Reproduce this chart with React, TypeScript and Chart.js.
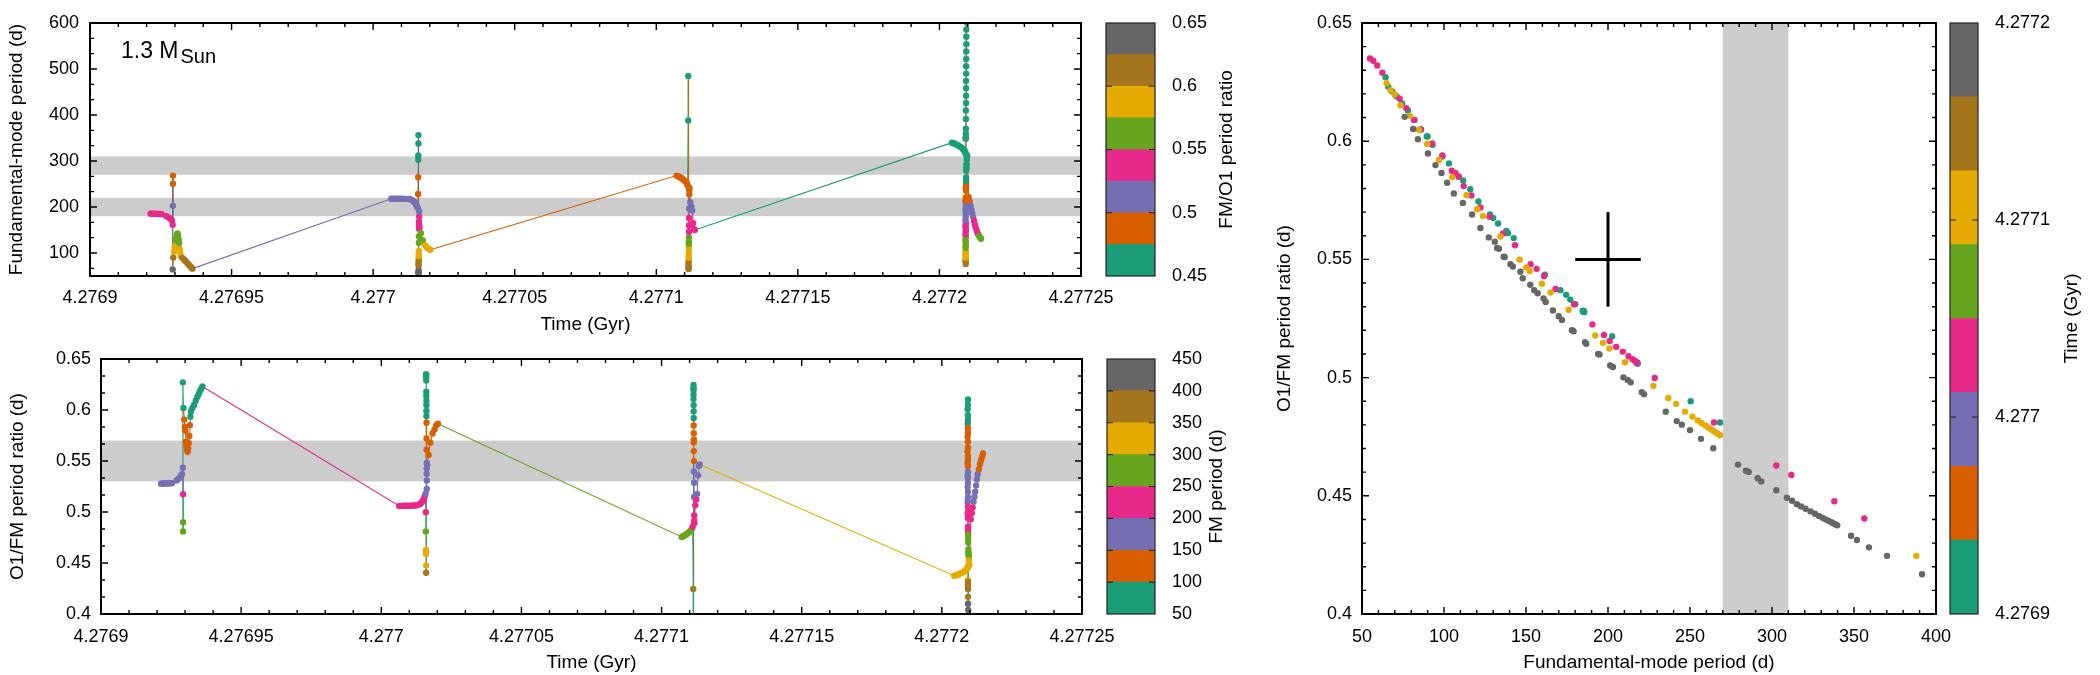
import React, { useEffect, useRef } from 'react';
import { Chart, registerables } from 'chart.js';

Chart.register(...registerables);

const FONT = "'Liberation Sans', Arial, Helvetica, sans-serif";
const PAGE_W = 2100;
const PAGE_H = 675;

// Dark2 palette, lowest band first
const palette = ['#1b9e77', '#d95f02', '#7570b3', '#e7298a', '#66a61e', '#e6ab02', '#a6761d', '#666666'];

// Colour-bar band edges
const ratioEdges = [0.45, 0.475, 0.5, 0.525, 0.55, 0.575, 0.6, 0.625, 0.65];
const periodEdges = [50, 100, 150, 200, 250, 300, 350, 400, 450];
const timeEdges = [4.2769, 4.2769375, 4.276975, 4.2770125, 4.27705, 4.2770875, 4.277125, 4.2771625, 4.2772];

// ---- Model track: four pulse episodes (time in Gyr, FM period in d, O1/FM period ratio) ----
const ep1Time = [4.2769214, 4.2769219, 4.2769224, 4.2769229, 4.2769234, 4.2769239, 4.2769244, 4.2769249, 4.2769253,
  4.276927, 4.2769278, 4.2769284, 4.2769289, 4.2769292, 4.2769293, 4.2769293, 4.2769293, 4.2769292,
  4.2769294, 4.2769297, 4.2769299, 4.2769301, 4.2769303, 4.2769305, 4.2769307, 4.2769309, 4.2769311, 4.2769313,
  4.2769315, 4.2769317, 4.2769319, 4.2769321, 4.2769326, 4.2769332, 4.2769338, 4.2769344, 4.2769349, 4.2769354,
  4.2769358, 4.2769362];
const ep1Period = [185.5, 185.4, 185.3, 185.2, 185.1, 185.0, 184.9, 184.8, 184.6,
  180.0, 177.0, 174.5, 171.0, 161.5, 202.5, 250.4, 268.3, 64.4,
  90.0, 103.0, 111.7, 116.0, 128.0, 133.0, 139.0, 142.5, 138.0, 130.0,
  121.0, 109.0, 99.0, 93.0, 89.5, 86.0, 82.0, 78.0, 74.5, 71.0,
  68.5, 66.0];
const ep1Ratio = [0.5278, 0.5279, 0.5279, 0.528, 0.528, 0.5281, 0.5281, 0.5282, 0.5283,
  0.531, 0.533, 0.535, 0.537, 0.5435, 0.5175, 0.49, 0.481, 0.6271,
  0.602, 0.5906, 0.5834, 0.5797, 0.569, 0.5652, 0.5611, 0.559, 0.562, 0.5675,
  0.5745, 0.585, 0.5935, 0.5985, 0.602, 0.605, 0.609, 0.613, 0.616, 0.619,
  0.621, 0.623];

const ep2Time = [4.2770064, 4.2770072, 4.277008, 4.2770088, 4.2770096, 4.2770104, 4.2770112, 4.2770119,
  4.2770126, 4.2770132, 4.2770138, 4.2770143, 4.2770148, 4.2770152, 4.2770155, 4.2770158,
  4.2770159, 4.2770159, 4.27701595, 4.27701595, 4.277016, 4.277016,
  4.277016, 4.277016, 4.277016, 4.27701605, 4.27701605, 4.27701605, 4.2770161, 4.2770161, 4.2770161, 4.2770161,
  4.27701615, 4.27701615, 4.27701615, 4.2770162, 4.2770162, 4.2770162, 4.27701625, 4.27701625,
  4.2770164, 4.2770169, 4.2770175, 4.2770183, 4.277019, 4.2770196, 4.2770202];
const ep2Period = [218.0, 218.0, 217.9, 217.9, 217.8, 217.8, 217.7, 217.6,
  217.3, 216.5, 215.0, 212.5, 209.0, 205.0, 201.0, 197.6,
  228.5, 264.6, 302.6, 311.8, 338.0, 356.3,
  54.9, 56.9, 59.3, 62.4, 73.0, 77.0, 81.7, 85.7, 92.8, 99.0,
  104.7, 122.2, 136.0, 152.8, 161.0, 168.0, 179.3, 190.5,
  156.5, 143.3, 127.8, 116.7, 112.0, 109.0, 107.0];
const ep2Ratio = [0.506, 0.506, 0.5061, 0.5061, 0.5062, 0.5062, 0.5063, 0.5063,
  0.5065, 0.507, 0.5078, 0.509, 0.511, 0.513, 0.5155, 0.518,
  0.4998, 0.481, 0.4628, 0.4588, 0.4477, 0.4404,
  0.635, 0.634, 0.632, 0.629, 0.618, 0.614, 0.609, 0.605, 0.599, 0.594,
  0.5875, 0.572, 0.561, 0.548, 0.543, 0.5375, 0.531, 0.5225,
  0.546, 0.556, 0.568, 0.577, 0.581, 0.585, 0.5865];

const ep3Time = [4.2771072, 4.2771076, 4.277108, 4.2771084, 4.2771088, 4.2771092, 4.2771096, 4.27711,
  4.2771104, 4.2771108, 4.2771111, 4.2771113, 4.2771113,
  4.2771114, 4.2771114, 4.2771114, 4.2771114, 4.2771114,
  4.27711145, 4.27711145, 4.27711145, 4.27711145, 4.2771115, 4.2771115, 4.2771115, 4.2771115,
  4.27711155, 4.27711155, 4.2771116, 4.2771116, 4.27711165, 4.27711165, 4.2771117,
  4.277112, 4.2771124, 4.2771127, 4.277113, 4.2771133, 4.2771136];
const ep3Period = [268.3, 267.2, 266.0, 264.6, 263.0, 261.3, 259.4, 257.2,
  254.8, 251.5, 247.0, 388.0, 485.0,
  65.0, 67.4, 69.9, 73.5, 79.2,
  84.7, 89.8, 96.9, 105.0, 113.7, 120.2, 123.8, 134.4,
  146.1, 159.7, 176.0, 196.9, 227.7, 236.8, 241.5,
  210.4, 200.9, 192.2, 165.0, 152.2, 150.2];
const ep3Ratio = [0.4756, 0.4761, 0.4767, 0.4773, 0.478, 0.4788, 0.4797, 0.4807,
  0.4819, 0.4835, 0.4856, 0.4246, 0.39,
  0.6245, 0.6216, 0.6198, 0.6152, 0.6107,
  0.6048, 0.5988, 0.5921, 0.5848, 0.5772, 0.5712, 0.5684, 0.5597,
  0.5499, 0.5397, 0.5287, 0.5147, 0.4965, 0.4914, 0.4889,
  0.5065, 0.5123, 0.5178, 0.536, 0.5451, 0.5466];

const ep4Time = [4.2772044, 4.2772049, 4.2772054, 4.2772059, 4.2772064, 4.2772069, 4.2772074, 4.2772079,
  4.2772083, 4.2772087, 4.277209, 4.2772092, 4.2772093,
  4.2772093, 4.2772093, 4.2772093, 4.27720935, 4.27720935, 4.27720935, 4.2772094, 4.2772094, 4.2772094, 4.2772094,
  4.27720945, 4.27720945, 4.27720945, 4.27720945, 4.2772095, 4.2772095, 4.2772095, 4.2772095, 4.2772095,
  4.2772093, 4.2772093, 4.2772092, 4.2772093, 4.2772093, 4.2772092, 4.2772093, 4.2772093, 4.2772092, 4.2772093,
  4.2772093, 4.2772092, 4.2772093, 4.2772093, 4.2772092, 4.2772093, 4.2772093, 4.2772092, 4.2772093, 4.2772093,
  4.2772092, 4.2772093, 4.2772093, 4.2772092, 4.2772093, 4.2772093, 4.2772092, 4.2772093,
  4.27720935, 4.27720935, 4.27720935, 4.2772094, 4.2772094, 4.2772094, 4.27720945, 4.2772095, 4.2772095,
  4.27720955, 4.2772096, 4.27720965, 4.2772097, 4.2772098,
  4.2772103, 4.2772107, 4.277211, 4.2772113, 4.2772116, 4.2772119, 4.2772122, 4.2772125, 4.2772128,
  4.2772132, 4.2772136, 4.277214, 4.2772144, 4.2772147];
const ep4Period = [339.8, 338.8, 337.6, 336.2, 334.6, 332.8, 330.8, 328.6,
  326.2, 323.5, 320.5, 317.8, 315.2,
  348.2, 351.8, 359.1, 370.1, 391.5, 410.0, 426.0, 442.0, 458.0, 474.0,
  490.0, 506.0, 522.0, 538.0, 554.0, 570.0, 586.0, 602.0, 618.0,
  76.0, 81.2, 84.1, 90.2, 94.8, 98.5, 101.9, 106.0, 111.5, 117.1,
  122.2, 127.3, 132.4, 136.4, 140.5, 146.6, 152.6, 157.1, 160.7, 166.4,
  171.9, 179.0, 186.7, 194.8, 201.3, 209.4, 213.9, 220.6,
  235.2, 241.9, 245.0, 250.0, 256.7, 264.2, 279.3, 284.1, 285.8,
  291.3, 293.5, 302.6, 309.1, 312.2,
  222.0, 212.0, 203.0, 194.0, 186.0, 178.0, 170.0, 162.0, 155.0,
  148.0, 142.0, 137.0, 133.5, 131.0];
const ep4Ratio = [0.4375, 0.4379, 0.4383, 0.4388, 0.4394, 0.44, 0.4407, 0.4415,
  0.4424, 0.4434, 0.4445, 0.4455, 0.4464,
  0.4331, 0.4313, 0.4282, 0.4246, 0.4168, 0.41, 0.404, 0.399, 0.394, 0.389,
  0.384, 0.38, 0.376, 0.372, 0.368, 0.364, 0.36, 0.357, 0.354,
  0.6103, 0.6052, 0.6008, 0.5948, 0.5899, 0.5866, 0.5824, 0.5779, 0.5739, 0.569,
  0.5633, 0.5593, 0.5548, 0.5511, 0.548, 0.5448, 0.5393, 0.5357, 0.5335, 0.5284,
  0.5244, 0.5196, 0.5143, 0.5098, 0.5051, 0.5001, 0.498, 0.4938,
  0.4856, 0.4816, 0.4801, 0.4778, 0.4741, 0.4701, 0.4632, 0.4606, 0.4601,
  0.4574, 0.4561, 0.4524, 0.4492, 0.4479,
  0.493, 0.499, 0.5045, 0.51, 0.515, 0.52, 0.526, 0.532, 0.537,
  0.542, 0.547, 0.551, 0.5545, 0.5575];

const timeGyr = [...ep1Time, ...ep2Time, ...ep3Time, ...ep4Time];
const fmPeriod = [...ep1Period, ...ep2Period, ...ep3Period, ...ep4Period];
const o1fmRatio = [...ep1Ratio, ...ep2Ratio, ...ep3Ratio, ...ep4Ratio];

// Observed ranges (shaded) and the observed star with its uncertainties
const periodBands = [[180, 220], [270, 310]];
const ratioBands = [[0.53, 0.57]];
const periodBandRight = [[270, 310]];
const starPeriod = 200;
const starPeriodErr = 20;
const starRatio = 0.55;
const starRatioErr = 0.02;

// Axis ranges and tick values
const timeRange = [4.2769, 4.27725];
const timeTicks = [4.2769, 4.27695, 4.277, 4.27705, 4.2771, 4.27715, 4.2772, 4.27725];
const periodRangeTop = [50, 600];
const periodTicksTop = [100, 200, 300, 400, 500, 600];
const ratioRange = [0.4, 0.65];
const ratioTicks = [0.4, 0.45, 0.5, 0.55, 0.6, 0.65];
const periodRangeRight = [50, 400];
const periodTicksRight = [50, 100, 150, 200, 250, 300, 350, 400];
const cbRatioTicks = [0.45, 0.5, 0.55, 0.6, 0.65];
const cbPeriodTicks = [50, 100, 150, 200, 250, 300, 350, 400, 450];
const cbTimeTicks = [4.2769, 4.277, 4.2771, 4.2772];

// Plot boxes on the page
const LAYOUT = {
  top: { l: 90, t: 23, r: 1081, b: 276 },
  bottom: { l: 101, t: 359, r: 1082, b: 614 },
  right: { l: 1362, t: 23, r: 1936, b: 614 },
  cbTop: { l: 1106, t: 23, r: 1155, b: 276 },
  cbBottom: { l: 1107, t: 359, r: 1155, b: 614 },
  cbRight: { l: 1950, t: 23, r: 1978, b: 614 },
};

const POINT_R = 3.2;

function bandColor(v: number, edges: number[]) {
  let i = 0;
  while (i < palette.length - 1 && v >= edges[i + 1]) i++;
  return palette[i];
}

const fmt = (v: any) => String(parseFloat(Number(v).toFixed(6)));

function axis(o: any) {
  return {
    type: 'linear',
    position: o.position,
    min: o.min,
    max: o.max,
    afterBuildTicks: (s: any) => {
      s.ticks = o.ticks.map((v: number) => ({ value: v }));
    },
    afterFit: (s: any) => {
      if (s.isHorizontal()) s.height = o.size;
      else s.width = o.size;
      s.paddingLeft = 0;
      s.paddingRight = 0;
      s.paddingTop = 0;
      s.paddingBottom = 0;
    },
    grid: { display: false, drawTicks: false, tickLength: 0 },
    border: { display: false },
    ticks: {
      padding: o.labelPad,
      autoSkip: false,
      maxRotation: 0,
      minRotation: 0,
      color: '#000',
      font: { family: FONT, size: 18 },
      callback: (v: any) => fmt(v),
    },
    title: o.title
      ? { display: true, text: o.title, color: '#000', font: { family: FONT, size: 19 }, padding: o.titlePad }
      : { display: false },
  };
}

function shadedBands(yRanges: number[][], xRanges: number[][]) {
  return {
    id: 'shadedBands',
    beforeDatasetsDraw(chart: any) {
      const { ctx, chartArea: a } = chart;
      const xs = chart.scales.x;
      const ys = chart.scales.y;
      ctx.save();
      ctx.fillStyle = '#cccccc';
      for (const [lo, hi] of yRanges) {
        const y1 = ys.getPixelForValue(hi);
        const y2 = ys.getPixelForValue(lo);
        ctx.fillRect(a.left, y1, a.width, y2 - y1);
      }
      for (const [lo, hi] of xRanges) {
        const x1 = xs.getPixelForValue(lo);
        const x2 = xs.getPixelForValue(hi);
        ctx.fillRect(x1, a.top, x2 - x1, a.height);
      }
      ctx.restore();
    },
  };
}

function steps(s: any, step: number) {
  const out: number[] = [];
  const k0 = Math.ceil(s.min / step - 1e-6);
  const k1 = Math.floor(s.max / step + 1e-6);
  for (let k = k0; k <= k1; k++) out.push(k * step);
  return out;
}

// Border with mirrored inward ticks on all four sides
function frameTicks(xMinor: number, yMinor: number) {
  return {
    id: 'frameTicks',
    afterDatasetsDraw(chart: any) {
      const { ctx, chartArea: a } = chart;
      const xs = chart.scales.x;
      const ys = chart.scales.y;
      const xMaj = xs.ticks.map((t: any) => t.value);
      const yMaj = ys.ticks.map((t: any) => t.value);
      const near = (list: number[], v: number, step: number) => list.some((m) => Math.abs(m - v) < step * 0.01);
      ctx.save();
      ctx.strokeStyle = '#000';
      ctx.lineWidth = 1.4;
      ctx.beginPath();
      const xMark = (v: number, len: number) => {
        const p = xs.getPixelForValue(v);
        ctx.moveTo(p, a.bottom);
        ctx.lineTo(p, a.bottom - len);
        ctx.moveTo(p, a.top);
        ctx.lineTo(p, a.top + len);
      };
      const yMark = (v: number, len: number) => {
        const p = ys.getPixelForValue(v);
        ctx.moveTo(a.left, p);
        ctx.lineTo(a.left + len, p);
        ctx.moveTo(a.right, p);
        ctx.lineTo(a.right - len, p);
      };
      xMaj.forEach((v: number) => xMark(v, 7));
      yMaj.forEach((v: number) => yMark(v, 7));
      steps(xs, xMinor).forEach((v) => { if (!near(xMaj, v, xMinor)) xMark(v, 4); });
      steps(ys, yMinor).forEach((v) => { if (!near(yMaj, v, yMinor)) yMark(v, 4); });
      ctx.stroke();
      ctx.lineWidth = 2;
      ctx.strokeRect(a.left, a.top, a.width, a.height);
      ctx.restore();
    },
  };
}

const massNote = {
  id: 'massNote',
  afterDatasetsDraw(chart: any) {
    const { ctx, chartArea: a } = chart;
    ctx.save();
    ctx.fillStyle = '#000';
    ctx.textAlign = 'left';
    ctx.textBaseline = 'alphabetic';
    ctx.font = `23px ${FONT}`;
    const x = a.left + 31;
    const y = a.top + 35;
    ctx.fillText('1.3 M', x, y);
    const w = ctx.measureText('1.3 M').width;
    ctx.font = `20px ${FONT}`;
    ctx.fillText('Sun', x + w + 2, y + 5);
    ctx.restore();
  },
};

function colorbarDecor(title: string, titleX: number) {
  return {
    id: 'colorbarDecor',
    afterDraw(chart: any) {
      const { ctx, chartArea: a } = chart;
      const ys = chart.scales.y;
      ctx.save();
      ctx.strokeStyle = '#222';
      ctx.lineWidth = 1.2;
      ctx.beginPath();
      for (const t of ys.ticks) {
        if (t.value <= ys.min || t.value >= ys.max) continue;
        const p = ys.getPixelForValue(t.value);
        ctx.moveTo(a.left, p);
        ctx.lineTo(a.left + 6, p);
        ctx.moveTo(a.right, p);
        ctx.lineTo(a.right - 6, p);
      }
      ctx.stroke();
      ctx.strokeRect(a.left, a.top, a.width, a.height);
      ctx.translate(titleX, (a.top + a.bottom) / 2);
      ctx.rotate(-Math.PI / 2);
      ctx.fillStyle = '#000';
      ctx.font = `19px ${FONT}`;
      ctx.textAlign = 'center';
      ctx.textBaseline = 'middle';
      ctx.fillText(title, 0, 0);
      ctx.restore();
    },
  };
}

function trackDataset(points: any[], colors: string[], line: boolean) {
  return {
    data: points,
    showLine: line,
    borderWidth: 1.1,
    borderColor: colors[0],
    segment: line ? { borderColor: (c: any) => colors[c.p1DataIndex] } : undefined,
    pointRadius: POINT_R,
    pointHoverRadius: POINT_R,
    pointBorderWidth: 0,
    pointBackgroundColor: colors,
    pointBorderColor: colors,
  };
}

function scatterPanel(o: any) {
  const { box, yAxisW, xAxisH } = o;
  return {
    type: 'scatter',
    data: { datasets: o.datasets },
    options: {
      responsive: false,
      animation: false,
      devicePixelRatio: 1,
      events: [],
      layout: { padding: { left: box.l - yAxisW, top: box.t, right: PAGE_W - box.r, bottom: PAGE_H - box.b - xAxisH } },
      plugins: { legend: { display: false }, tooltip: { enabled: false } },
      scales: {
        x: axis({ ...o.x, position: 'bottom', size: xAxisH }),
        y: axis({ ...o.y, position: 'left', size: yAxisW }),
      },
    },
    plugins: o.plugins,
  };
}

function colorbar(box: any, edges: number[], ticks: number[], title: string, titleX: number) {
  const axisW = 120;
  return {
    type: 'bar',
    data: {
      labels: [''],
      datasets: palette.map((c, i) => ({
        data: [[edges[i], edges[i + 1]]],
        backgroundColor: c,
        borderWidth: 0,
        grouped: false,
        barPercentage: 1,
        categoryPercentage: 1,
      })),
    },
    options: {
      responsive: false,
      animation: false,
      devicePixelRatio: 1,
      events: [],
      layout: { padding: { left: box.l, top: box.t, right: PAGE_W - box.r - axisW, bottom: PAGE_H - box.b } },
      plugins: { legend: { display: false }, tooltip: { enabled: false } },
      scales: {
        x: {
          display: false,
          afterFit: (s: any) => { s.height = 0; s.paddingLeft = 0; s.paddingRight = 0; },
        },
        y: axis({ min: edges[0], max: edges[edges.length - 1], ticks, position: 'right', size: axisW, labelPad: 17 }),
      },
    },
    plugins: [colorbarDecor(title, titleX)],
  };
}

function buildConfigs() {
  const topColors = o1fmRatio.map((r) => bandColor(r, ratioEdges));
  const bottomColors = fmPeriod.map((p) => bandColor(p, periodEdges));
  const rightColors = timeGyr.map((t) => bandColor(t, timeEdges));

  const topPoints = timeGyr.map((t, i) => ({ x: t, y: fmPeriod[i] }));
  const bottomPoints = timeGyr.map((t, i) => ({ x: t, y: o1fmRatio[i] }));
  const rightPoints = fmPeriod.map((p, i) => ({ x: p, y: o1fmRatio[i] }));

  const crossStyle = { showLine: true, borderColor: '#000', borderWidth: 3, pointRadius: 0, pointHoverRadius: 0 };

  const top = scatterPanel({
    box: LAYOUT.top,
    yAxisW: LAYOUT.top.l,
    xAxisH: 64,
    datasets: [trackDataset(topPoints, topColors, true)],
    x: { min: timeRange[0], max: timeRange[1], ticks: timeTicks, labelPad: 11, title: 'Time (Gyr)', titlePad: { top: 0, bottom: 3.6 } },
    y: { min: periodRangeTop[0], max: periodRangeTop[1], ticks: periodTicksTop, labelPad: 11, title: 'Fundamental-mode period (d)', titlePad: { top: 5.6, bottom: 0 } },
    plugins: [shadedBands(periodBands, []), frameTicks(0.00001, 100 / 3), massNote],
  });

  const bottom = scatterPanel({
    box: LAYOUT.bottom,
    yAxisW: LAYOUT.bottom.l,
    xAxisH: 61,
    datasets: [trackDataset(bottomPoints, bottomColors, true)],
    x: { min: timeRange[0], max: timeRange[1], ticks: timeTicks, labelPad: 12, title: 'Time (Gyr)', titlePad: { top: 0, bottom: 0.6 } },
    y: { min: ratioRange[0], max: ratioRange[1], ticks: ratioTicks, labelPad: 10, title: 'O1/FM period ratio (d)', titlePad: { top: 6.6, bottom: 0 } },
    plugins: [shadedBands(ratioBands, []), frameTicks(0.00001, 0.05 / 3)],
  });

  const right = scatterPanel({
    box: LAYOUT.right,
    yAxisW: 92,
    xAxisH: 61,
    datasets: [
      trackDataset(rightPoints, rightColors, false),
      { ...crossStyle, data: [{ x: starPeriod - starPeriodErr, y: starRatio }, { x: starPeriod + starPeriodErr, y: starRatio }] },
      { ...crossStyle, data: [{ x: starPeriod, y: starRatio - starRatioErr }, { x: starPeriod, y: starRatio + starRatioErr }] },
    ],
    x: { min: periodRangeRight[0], max: periodRangeRight[1], ticks: periodTicksRight, labelPad: 12, title: 'Fundamental-mode period (d)', titlePad: { top: 0, bottom: 0.6 } },
    y: { min: ratioRange[0], max: ratioRange[1], ticks: ratioTicks, labelPad: 10, title: 'O1/FM period ratio (d)', titlePad: { top: 3.6, bottom: 0 } },
    plugins: [shadedBands([], periodBandRight), frameTicks(10, 0.01)],
  });

  return [
    top,
    bottom,
    right,
    colorbar(LAYOUT.cbTop, ratioEdges, cbRatioTicks, 'FM/O1 period ratio', 1227),
    colorbar(LAYOUT.cbBottom, periodEdges, cbPeriodTicks, 'FM period (d)', 1217),
    colorbar(LAYOUT.cbRight, timeEdges, cbTimeTicks, 'Time (Gyr)', 2072),
  ];
}

export default function App() {
  const r0 = useRef<HTMLCanvasElement>(null);
  const r1 = useRef<HTMLCanvasElement>(null);
  const r2 = useRef<HTMLCanvasElement>(null);
  const r3 = useRef<HTMLCanvasElement>(null);
  const r4 = useRef<HTMLCanvasElement>(null);
  const r5 = useRef<HTMLCanvasElement>(null);
  const refs = [r0, r1, r2, r3, r4, r5];

  useEffect(() => {
    const configs = buildConfigs();
    const charts = configs.map((cfg, i) => new Chart(refs[i].current as HTMLCanvasElement, cfg as any));
    return () => charts.forEach((c) => c.destroy());
  }, []);

  return (
    <div style={{ position: 'absolute', left: 0, top: 0, width: PAGE_W, height: PAGE_H, background: '#fff', overflow: 'hidden' }}>
      {refs.map((r, i) => (
        <canvas
          key={i}
          ref={r}
          width={PAGE_W}
          height={PAGE_H}
          style={{ position: 'absolute', left: 0, top: 0, width: PAGE_W, height: PAGE_H, display: 'block' }}
        />
      ))}
    </div>
  );
}
